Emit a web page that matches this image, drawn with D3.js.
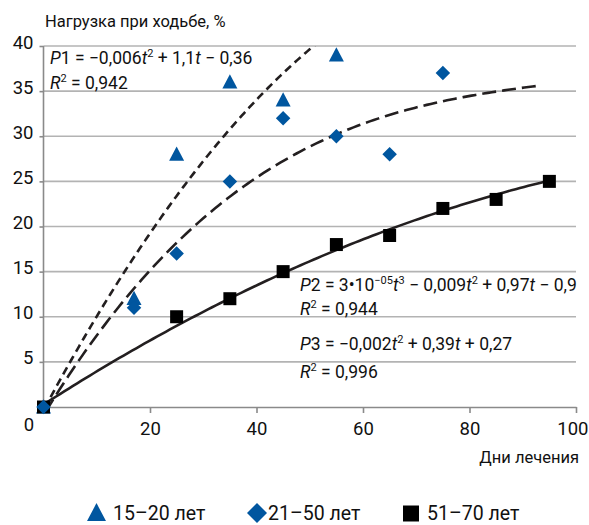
<!DOCTYPE html>
<html><head><meta charset="utf-8">
<script src="https://cdn.jsdelivr.net/npm/d3@7"></script>
<style>
body{margin:0;background:#fff;}
svg text{font-family:Roboto,"Liberation Sans",sans-serif;fill:#111;}
</style></head>
<body><svg id="c" width="589" height="525"></svg>
<script>
// ---- data ----
const seriesNames = ["15–20 лет", "21–50 лет", "51–70 лет"];
const days1 = [0, 17, 25, 35, 45, 55];
const load1 = [0, 12, 28, 36, 34, 39];
const days2 = [0, 17, 25, 35, 45, 55, 65, 75];
const load2 = [0, 11, 17, 25, 32, 30, 28, 37];
const days3 = [0, 25, 35, 45, 55, 65, 75, 85, 95];
const load3 = [0, 10, 12, 15, 18, 19, 22, 23, 25];
// trend coefficients (constant, t, t^2, t^3) and drawn ranges
const trend1 = [-0.36, 1.1, -0.006, 0];
const trend2 = [-0.9, 0.97, -0.009, 0.00003];
const trend3 = [0.27, 0.38, -0.00125, 0];
const trendRange1 = [0.33, 55];
const trendRange2 = [0.9, 92.6];
const trendRange3 = [0, 95];
const xTicks = [20, 40, 60, 80, 100];
const yTicks = [5, 10, 15, 20, 25, 30, 35, 40];
const eqLabels = [
  [{t:"P",i:1},{t:"1 = −0,006"},{t:"t",i:1},{t:"2",s:1},{t:" + 1,1"},{t:"t",i:1},{t:" − 0,36"}],
  [{t:"R",i:1},{t:"2",s:1},{t:" = 0,942"}],
  [{t:"P",i:1},{t:"2 = 3•10"},{t:"−05",s:1},{t:"t",i:1},{t:"3",s:1},{t:" − 0,009"},{t:"t",i:1},{t:"2",s:1},{t:" + 0,97"},{t:"t",i:1},{t:" − 0,9"}],
  [{t:"R",i:1},{t:"2",s:1},{t:" = 0,944"}],
  [{t:"P",i:1},{t:"3 = −0,002"},{t:"t",i:1},{t:"2",s:1},{t:" + 0,39"},{t:"t",i:1},{t:" + 0,27"}],
  [{t:"R",i:1},{t:"2",s:1},{t:" = 0,996"}]
];
const eqPos = [[50,64],[50,89],[300,291],[300,315],[300,350],[300,378]];

// ---- drawing ----
const svg = d3.select("#c");
const blue = "#00569f";
const x = d3.scaleLinear().domain([0,100]).range([43.5,576]);
const y = d3.scaleLinear().domain([0,40]).range([407,46]);

// gridlines
svg.append("g").selectAll("line").data(yTicks).join("line")
  .attr("x1", x(0)).attr("x2", x(100)).attr("y1", d=>y(d)).attr("y2", d=>y(d))
  .attr("stroke", "#b3b3b3").attr("stroke-width", 1.6);

// axes
const gx = svg.append("g").attr("transform", `translate(0,${y(0)})`)
  .call(d3.axisBottom(x).tickValues(xTicks).tickSize(6).tickSizeOuter(0).tickFormat(d3.format("d")));
gx.select(".domain").attr("stroke", "#8a8a8a").attr("stroke-width", 1.6);
gx.selectAll(".tick line").attr("stroke", "#8a8a8a").attr("stroke-width", 1.6);
gx.selectAll(".tick text").attr("y", 28).attr("dy", 0).attr("font-size", 18.5)
  .style("font-family", "Roboto,sans-serif").attr("fill", "#111")
  .attr("text-anchor", d => d === 100 ? "end" : "middle")
  .attr("x", d => d === 100 ? 12 : 0);

const gy = svg.append("g").attr("transform", `translate(${x(0)},0)`)
  .call(d3.axisLeft(y).tickValues(yTicks).tickSize(4).tickSizeOuter(0).tickFormat(d3.format("d")));
gy.select(".domain").attr("stroke", "#8a8a8a").attr("stroke-width", 1.6)
  .attr("d", `M0,${y(40)}V${y(0)}`);
gy.selectAll(".tick line").attr("stroke", "#8a8a8a").attr("stroke-width", 1.6);
gy.selectAll(".tick text").attr("x", -10).attr("dy", 2).attr("font-size", 18.5)
  .style("font-family", "Roboto,sans-serif").attr("fill", "#111");

svg.append("text").attr("x", 29).attr("y", 431).attr("text-anchor", "middle")
  .attr("font-size", 18.5).text("0");

// titles
svg.append("text").attr("x", 45).attr("y", 27).attr("font-size", 16.5).text("Нагрузка при ходьбе, %");
svg.append("text").attr("x", 579).attr("y", 463).attr("text-anchor", "end").attr("font-size", 16.5).text("Дни лечения");

// trendlines
svg.append("clipPath").attr("id", "pc").append("rect")
  .attr("x", x(0)).attr("y", y(40)).attr("width", x(100)-x(0)).attr("height", y(0)-y(40)+2);
function poly(c, t){ return c[0] + c[1]*t + c[2]*t*t + c[3]*t*t*t; }
function curve(c, r){
  const n = 120, pts = [];
  for (let k=0;k<=n;k++){ const t = r[0] + (r[1]-r[0])*k/n; pts.push([t, poly(c,t)]); }
  return pts;
}
const line = d3.line().x(d=>x(d[0])).y(d=>y(d[1]));
const tg = svg.append("g").attr("clip-path", "url(#pc)").attr("fill", "none").attr("stroke", "#231f20").attr("stroke-width", 2.6);
tg.append("path").attr("d", line([[0,0]].concat(curve(trend1, trendRange1)))).attr("stroke-dasharray", "8,5");
tg.append("path").attr("d", line([[0,0]].concat(curve(trend2, trendRange2)))).attr("stroke-dasharray", "14,6");
tg.append("path").attr("d", line(curve(trend3, trendRange3)));

// markers
function tri(cx, cy, w){ const h = w*0.95; return `M${cx},${cy-h*0.55}L${cx+w/2},${cy+h*0.45}L${cx-w/2},${cy+h*0.45}Z`; }
function dia(cx, cy, w){ return `M${cx},${cy-w/2}L${cx+w/2},${cy}L${cx},${cy+w/2}L${cx-w/2},${cy}Z`; }
function sq(cx, cy, w){ return `M${cx-w/2},${cy-w/2}h${w}v${w}h${-w}Z`; }

svg.append("g").selectAll("path").data(days1.map((d,i)=>[d,load1[i]])).join("path")
  .attr("d", d=>tri(x(d[0]), y(d[1]), 15)).attr("fill", blue);
svg.append("g").selectAll("path").data(days3.map((d,i)=>[d,load3[i]])).join("path")
  .attr("d", d=>sq(x(d[0]), y(d[1]), 13)).attr("fill", "#000");
svg.append("g").selectAll("path").data(days2.map((d,i)=>[d,load2[i]])).join("path")
  .attr("d", d=>dia(x(d[0]), y(d[1]), 14.5)).attr("fill", blue);

// equation labels
eqLabels.forEach((parts, k) => {
  const t = svg.append("text").attr("x", eqPos[k][0]).attr("y", eqPos[k][1]).attr("font-size", 17.5);
  parts.forEach(p => {
    const s = t.append("tspan").text(p.t);
    if (p.i) s.attr("font-style", "italic");
    if (p.s) s.attr("font-size", 11).attr("baseline-shift", "7");
  });
});

// legend
const lg = svg.append("g");
lg.append("path").attr("d", tri(96.5, 513, 19)).attr("fill", blue);
lg.append("text").attr("x", 113).attr("y", 520).attr("font-size", 19.5).text(seriesNames[0]);
lg.append("path").attr("d", dia(257, 513, 20)).attr("fill", blue);
lg.append("text").attr("x", 268).attr("y", 520).attr("font-size", 19.5).text(seriesNames[1]);
lg.append("path").attr("d", sq(411, 513.5, 16)).attr("fill", "#000");
lg.append("text").attr("x", 427).attr("y", 520).attr("font-size", 19.5).text(seriesNames[2]);
</script></body></html>
